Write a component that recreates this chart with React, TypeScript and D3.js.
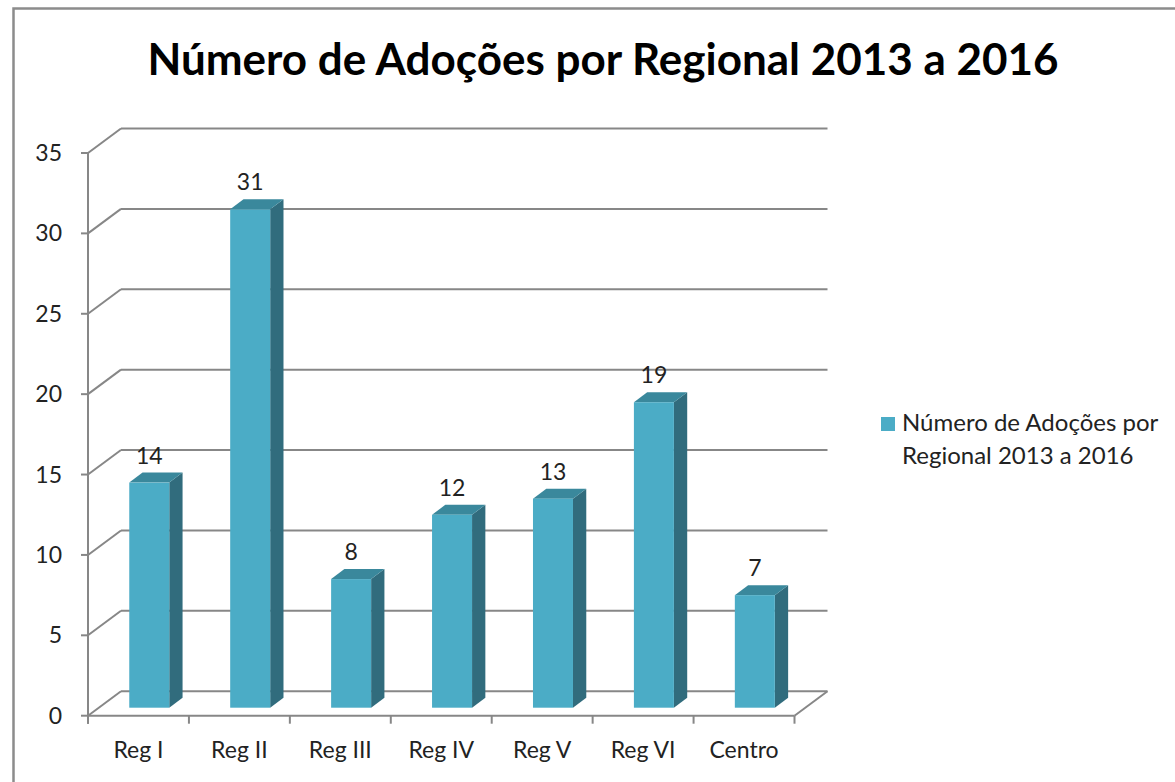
import React from "react";
import * as d3 from "d3";

const categories = ["Reg I", "Reg II", "Reg III", "Reg IV", "Reg V", "Reg VI", "Centro"];
const values = [14, 31, 8, 12, 13, 19, 7];
const yTicks = [0, 5, 10, 15, 20, 25, 30, 35];
const title = "Número de Adoções por Regional 2013 a 2016";
const legendLines = ["Número de Adoções por", "Regional 2013 a 2016"];

const W = 1175;
const H = 782;
const FONT = "Lato, 'Open Sans', sans-serif";
const GRID = "#878787";

export default function App() {
  const x0 = 88;
  const x1 = 794.5;
  const yBase = 715.7;
  const yTop = 153;
  const wallDx = 33;
  const wallDy = -24.5;
  const barDx = 10.8;
  const barDy = -8;
  const depDx = 13.3;
  const depDy = -10;

  const x = d3.scaleBand<string>().domain(categories).range([x0, x1]).paddingInner(0).paddingOuter(0);
  const y = d3.scaleLinear().domain([0, 35]).range([yBase, yTop]);
  const barW = 40;

  const pts = (arr: [number, number][]) => arr.map((p) => p.join(",")).join(" ");

  return (
    <svg width={W} height={H} style={{ display: "block", position: "absolute", left: 0, top: 0 }}>
      <rect x={0} y={0} width={W} height={H} fill="#fff" />
      {/* outer frame */}
      <path d={`M13.5,${H} L13.5,8.5 L${W},8.5`} fill="none" stroke="#8c8c8c" strokeWidth={2.5} />
      <text x={603} y={75} textAnchor="middle" fontFamily={FONT} fontWeight={700} fontSize={44} fill="#000">
        {title}
      </text>

      {/* back wall gridlines and left wall diagonals */}
      {yTicks.map((t) => (
        <g key={t}>
          <line x1={x0 + wallDx} x2={x1 + wallDx} y1={y(t) + wallDy} y2={y(t) + wallDy} stroke={GRID} strokeWidth={2} />
          <line x1={x0} x2={x0 + wallDx} y1={y(t)} y2={y(t) + wallDy} stroke={GRID} strokeWidth={2} />
          <line x1={x0 - 7} x2={x0} y1={y(t)} y2={y(t)} stroke={GRID} strokeWidth={2} />
          <text x={62} y={y(t)} dy="0.35em" textAnchor="end" fontFamily={FONT} fontSize={23} fill="#222">
            {t}
          </text>
        </g>
      ))}
      {/* floor */}
      <line x1={x0} x2={x1} y1={yBase} y2={yBase} stroke={GRID} strokeWidth={2} />
      <line x1={x1} x2={x1 + wallDx} y1={yBase} y2={yBase + wallDy} stroke={GRID} strokeWidth={2} />
      {/* vertical axis */}
      <line x1={x0} x2={x0} y1={yTop} y2={yBase + 8} stroke={GRID} strokeWidth={2} />
      {/* category ticks */}
      {categories.map((c) => (
        <line key={c} x1={x(c)!} x2={x(c)!} y1={yBase} y2={yBase + 8} stroke={GRID} strokeWidth={2} />
      ))}
      <line x1={x1} x2={x1} y1={yBase} y2={yBase + 8} stroke={GRID} strokeWidth={2} />
      {categories.map((c) => (
        <text key={c} x={x(c)! + x.bandwidth() / 2} y={758} textAnchor="middle" fontFamily={FONT} fontSize={23} fill="#222">
          {c}
        </text>
      ))}

      {/* bars */}
      {categories.map((c, i) => {
        const v = values[i];
        const l = x(c)! + (x.bandwidth() - barW) / 2 + barDx;
        const r = l + barW;
        const b = yBase + barDy;
        const t = y(v) + barDy;
        return (
          <g key={c}>
            <polygon points={pts([[r, t], [r + depDx, t + depDy], [r + depDx, b + depDy], [r, b]])} fill="#316c7d" />
            <polygon points={pts([[l, t], [l + depDx, t + depDy], [r + depDx, t + depDy], [r, t]])} fill="#3a889c" />
            <rect x={l} y={t} width={barW} height={b - t} fill="#4bacc6" />
            <text x={(l + r) / 2} y={t + depDy - 9} textAnchor="middle" fontFamily={FONT} fontSize={23} fill="#222">
              {v}
            </text>
          </g>
        );
      })}

      {/* legend */}
      <rect x={881} y={417} width={14} height={14} fill="#4bacc6" />
      {legendLines.map((s, i) => (
        <text key={i} x={902} y={431 + i * 33} fontFamily={FONT} fontSize={24} fill="#222">
          {s}
        </text>
      ))}
    </svg>
  );
}
